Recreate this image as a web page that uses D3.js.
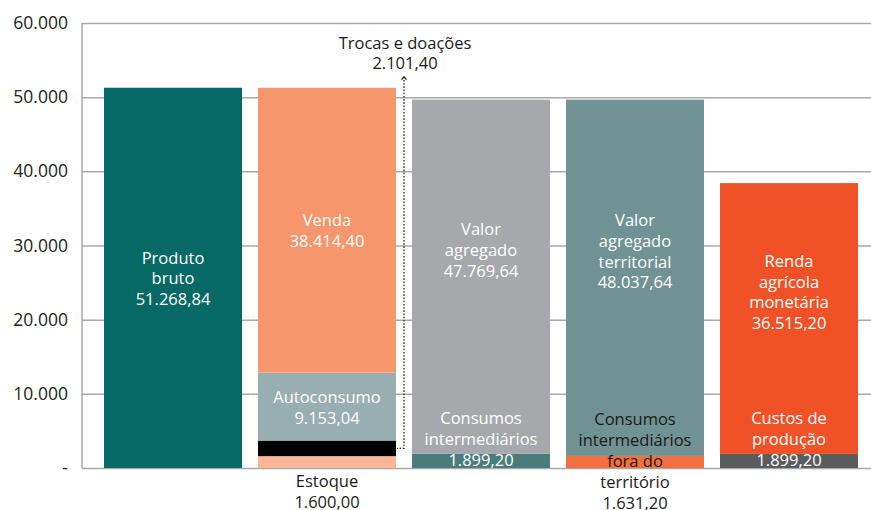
<!DOCTYPE html>
<html>
<head>
<meta charset="utf-8">
<script src="https://cdn.jsdelivr.net/npm/d3@7/dist/d3.min.js"></script>
<style>
  html, body { margin: 0; padding: 0; background: #fff; }
  svg { display: block; font-family: "Open Sans", "Noto Sans", sans-serif; }
</style>
</head>
<body>
<svg id="chart" width="871" height="510"></svg>
<script>
// ---- data -------------------------------------------------------------
const bars = ["produto", "destino", "agregado", "territorial", "renda"];

// stacked segments, bottom to top within each bar
const segBar   = [0, 1, 1, 1, 1, 2, 2, 3, 3, 4, 4];
const segName  = [
  "Produto|bruto",
  "Estoque",
  "Trocas e doações",
  "Autoconsumo",
  "Venda",
  "Consumos|intermediários",
  "Valor|agregado",
  "Consumos|intermediários|fora do|território",
  "Valor|agregado|territorial",
  "Custos de|produção",
  "Renda|agrícola|monetária"
];
const segValue = [
  51268.84,
  1600.00,
  2101.40,
  9153.04,
  38414.40,
  1899.20,
  47769.64,
  1631.20,
  48037.64,
  1899.20,
  36515.20
];

const yTicks = [0, 10000, 20000, 30000, 40000, 50000, 60000];

// ---- styling ----------------------------------------------------------
const segColor = [
  "#076965", "#fbb697", "#000000", "#99aeb0", "#f6966c",
  "#4a7c7c", "#a7a8ab", "#f3703f", "#709292", "#5b5c5e", "#f05127"
];
// how each segment's label is placed
const segLabelMode = [
  "center", "below", "callout", "center", "center",
  "bottom", "raised", "bottom", "raised", "bottom", "raised"
];
const segLabelColor = [
  "#fff", "#1a1a1a", "#1a1a1a", "#fff", "#fff",
  "#fff", "#fff", "#1a1a1a", "#fff", "#fff", "#fff"
];

const W = 871, H = 510;
const fontSize = 16.5, lineH = 20.8;

const pt = d3.formatLocale({ decimal: ",", thousands: ".", grouping: [3], currency: ["R$", ""] });
const fmtValue = pt.format(",.2f");
const fmtTick = v => v === 0 ? "-" : pt.format(",.0f")(v);

const svg = d3.select("#chart");

const y = d3.scaleLinear().domain([0, 60000]).range([468, 23]);
const x = d3.scaleBand().domain(bars).range([96, 866])
  .paddingInner(0.104).paddingOuter(0.052);
const axisX = 82;

// ---- stack segments ---------------------------------------------------
const totals = {};
const segs = segValue.map((v, i) => {
  const b = bars[segBar[i]];
  const y0 = totals[b] || 0;
  totals[b] = y0 + v;
  return { i, bar: b, y0, y1: y0 + v, value: v, lines: segName[i].split("|") };
});

// ---- grid & axis ------------------------------------------------------
const grid = svg.append("g")
  .attr("transform", `translate(${axisX},0)`)
  .call(d3.axisLeft(y).tickValues(yTicks).tickSize(-(W - axisX)).tickFormat(fmtTick).tickPadding(14));
grid.select(".domain").remove();
grid.selectAll(".tick line").attr("stroke", "#a9a9a9").attr("stroke-width", 1.5);
grid.selectAll(".tick text")
  .attr("font-size", 17.5).attr("fill", "#222")
  .attr("font-family", "\"Open Sans\", sans-serif");

svg.append("line")
  .attr("x1", axisX).attr("x2", axisX)
  .attr("y1", y(60000)).attr("y2", y(0))
  .attr("stroke", "#a9a9a9").attr("stroke-width", 1.5);

// ---- bars -------------------------------------------------------------
svg.append("g").selectAll("rect").data(segs).join("rect")
  .attr("x", d => x(d.bar))
  .attr("width", x.bandwidth())
  .attr("y", d => y(d.y1))
  .attr("height", d => y(d.y0) - y(d.y1))
  .attr("fill", d => segColor[d.i]);

// ---- callout for the thin black segment ------------------------------
const callout = segs[segLabelMode.indexOf("callout")];
const cx = (x("destino") + x.bandwidth() + x("agregado")) / 2;
const cyBottom = y((callout.y0 + callout.y1) / 2);
const cyTop = y(totals["destino"]) - 11;
svg.append("path")
  .attr("d", `M${cx},${cyTop} L${cx},${cyBottom} L${x("destino") + x.bandwidth() + 1},${cyBottom}`)
  .attr("stroke", "#333").attr("stroke-width", 1.4)
  .attr("stroke-dasharray", "1.6,1.6").attr("fill", "none");
svg.append("path")
  .attr("d", `M${cx - 2.5},${cyTop + 3} L${cx},${cyTop} L${cx + 2.5},${cyTop + 3}`)
  .attr("stroke", "#333").attr("stroke-width", 1.3).attr("fill", "none");

// ---- labels -----------------------------------------------------------
const labels = svg.append("g").attr("font-size", fontSize).attr("text-anchor", "middle");

segs.forEach(d => {
  const mode = segLabelMode[d.i];
  const lines = d.lines.concat([fmtValue(d.value)]);
  const n = lines.length;
  const mid = (y(d.y0) + y(d.y1)) / 2;
  let cxL = x(d.bar) + x.bandwidth() / 2;
  let firstY, step = lineH;
  if (mode === "center") {
    firstY = mid - (n - 1) * lineH / 2;
  } else if (mode === "raised") {
    firstY = mid - 27 - (n - 1) * lineH / 2;
  } else if (mode === "bottom") {
    // third line sits on the middle of the thin segment
    firstY = mid - 2 * lineH - 1.5;
  } else if (mode === "below") {
    firstY = y(0) + 12.5;
    step = 20.5;
  } else {
    cxL = cx + 1;
    firstY = y(totals["destino"]) - 45.5;
    step = 20.5;
  }
  const t = labels.append("text").attr("fill", segLabelColor[d.i]);
  lines.forEach((s, k) => {
    t.append("tspan")
      .attr("x", cxL)
      .attr("y", firstY + k * step)
      .attr("dominant-baseline", "central")
      .text(s);
  });
});
</script>
</body>
</html>
